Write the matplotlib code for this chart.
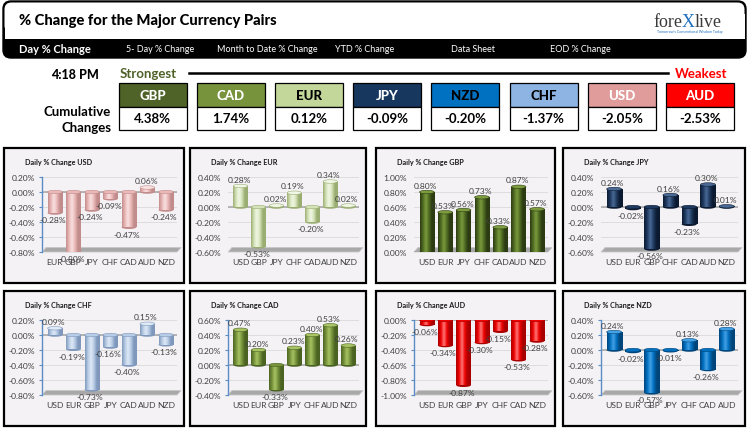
import numpy as np
import matplotlib
matplotlib.use("Agg")
import matplotlib.pyplot as plt
from matplotlib.patches import Rectangle, FancyBboxPatch, Polygon, Ellipse
from matplotlib.colors import LinearSegmentedColormap

W, H = 749, 431

# ---------------- data ----------------
page_title = "% Change for the Major Currency Pairs"
menu_items = ["Day % Change", "5- Day % Change", "Month to Date % Change",
              "YTD % Change", "Data Sheet", "EOD % Change"]
time_label = "4:18 PM"
rank_currencies = ["GBP", "CAD", "EUR", "JPY", "NZD", "CHF", "USD", "AUD"]
rank_values = [4.38, 1.74, 0.12, -0.09, -0.20, -1.37, -2.05, -2.53]

usd_cats = ["EUR", "GBP", "JPY", "CHF", "CAD", "AUD", "NZD"]
usd_vals = [-0.28, -0.80, -0.24, -0.09, -0.47, 0.06, -0.24]
eur_cats = ["USD", "GBP", "JPY", "CHF", "CAD", "AUD", "NZD"]
eur_vals = [0.28, -0.53, 0.02, 0.19, -0.20, 0.34, 0.02]
gbp_cats = ["USD", "EUR", "JPY", "CHF", "CAD", "AUD", "NZD"]
gbp_vals = [0.80, 0.53, 0.56, 0.73, 0.33, 0.87, 0.57]
jpy_cats = ["USD", "EUR", "GBP", "CHF", "CAD", "AUD", "NZD"]
jpy_vals = [0.24, -0.02, -0.56, 0.16, -0.23, 0.30, 0.01]
chf_cats = ["USD", "EUR", "GBP", "JPY", "CAD", "AUD", "NZD"]
chf_vals = [0.09, -0.19, -0.73, -0.16, -0.40, 0.15, -0.13]
cad_cats = ["USD", "EUR", "GBP", "JPY", "CHF", "AUD", "NZD"]
cad_vals = [0.47, 0.20, -0.33, 0.23, 0.40, 0.53, 0.26]
aud_cats = ["USD", "EUR", "GBP", "JPY", "CHF", "CAD", "NZD"]
aud_vals = [-0.06, -0.34, -0.87, -0.30, -0.15, -0.53, -0.28]
nzd_cats = ["USD", "EUR", "GBP", "JPY", "CHF", "CAD", "AUD"]
nzd_vals = [0.24, -0.02, -0.57, -0.01, 0.13, -0.26, 0.28]

y_ranges = {"USD": (-0.8, 0.2), "EUR": (-0.6, 0.4), "GBP": (0.0, 1.0), "JPY": (-0.6, 0.4),
            "CHF": (-0.8, 0.2), "CAD": (-0.4, 0.6), "AUD": (-1.0, 0.0), "NZD": (-0.6, 0.4)}

# ---------------- styles ----------------
plt.rcParams["font.family"] = ["Lato", "DejaVu Sans"]
FAM = ["Lato", "DejaVu Sans"]
box_colors = {"GBP": "#4f6228", "CAD": "#77933c", "EUR": "#c4d79b", "JPY": "#17375e",
              "NZD": "#0070c0", "CHF": "#8db4e2", "USD": "#df9c9b", "AUD": "#ff0000"}
box_text = {"GBP": "white", "CAD": "white", "EUR": "black", "JPY": "white",
            "NZD": "black", "CHF": "black", "USD": "white", "AUD": "white"}
# (dark, mid, light)
bar_colors = {"USD": ("#c28c8c", "#ebb8b8", "#f8e2e2"),
              "EUR": ("#9aad72", "#d5e3b8", "#f1f7e6"),
              "GBP": ("#2c3b12", "#4f6b22", "#7c9c3e"),
              "JPY": ("#0b1a30", "#1f3a60", "#4a6a95"),
              "CHF": ("#7f98bb", "#b7cce6", "#e0eaf6"),
              "CAD": ("#4b6322", "#77933c", "#a8c464"),
              "AUD": ("#a80000", "#f00000", "#ff7a7a"),
              "NZD": ("#00457a", "#0070c0", "#45a2e6")}
show_axis = {"USD": True, "EUR": False, "GBP": False, "JPY": False,
             "CHF": True, "CAD": True, "AUD": True, "NZD": True}

panels = [("USD", usd_cats, usd_vals), ("EUR", eur_cats, eur_vals),
          ("GBP", gbp_cats, gbp_vals), ("JPY", jpy_cats, jpy_vals),
          ("CHF", chf_cats, chf_vals), ("CAD", cad_cats, cad_vals),
          ("AUD", aud_cats, aud_vals), ("NZD", nzd_cats, nzd_vals)]
cols = [(4, 184), (190, 366), (376, 555), (563, 745)]
rows = [(149, 284), (292, 427)]

fig = plt.figure(figsize=(W / 100, H / 100), dpi=100)
fig.patch.set_facecolor("white")
bg = fig.add_axes([0, 0, 1, 1], zorder=0)
bg.set_xlim(0, W)
bg.set_ylim(H, 0)
bg.axis("off")

# ---------------- header ----------------
bg.add_patch(FancyBboxPatch((3, 2), 743, 57, boxstyle="round,pad=0,rounding_size=8",
                            fc="black", ec="black", lw=1))
bg.add_patch(FancyBboxPatch((4.5, 3.5), 740, 30, boxstyle="round,pad=0,rounding_size=7",
                            fc="white", ec="none"))
bg.add_patch(Rectangle((4.5, 15), 740, 25, fc="white", ec="none"))
bg.text(19, 21, page_title, family=FAM, fontweight="black", fontsize=10.6, va="center", ha="left")
menu_x = [19, 126, 217, 335, 451, 550]
for i, (mx, item) in enumerate(zip(menu_x, menu_items)):
    bg.text(mx, 49.5, item, color="white", family=FAM,
            fontweight="bold" if i == 0 else "normal",
            fontsize=8 if i == 0 else 6.5, va="center", ha="left")
t1 = bg.text(653, 27, "fore", family=["Liberation Serif"], fontsize=13, color="#3a3a3a",
             va="baseline", ha="left")
t2 = bg.annotate("X", xy=(1, 0), xycoords=t1, family=["Liberation Serif"], fontsize=13,
                 color="#1f6fc0", va="bottom", ha="left")
t3 = bg.annotate("live", xy=(1, 0), xycoords=t2, family=["Liberation Serif"], fontsize=13,
                 color="#3a3a3a", va="bottom", ha="left")
bg.text(690, 32, "Tomorrow's Conventional Wisdom Today", fontsize=2.6, color="#1f6fc0",
        ha="center", va="center")

# ---------------- strongest / weakest ----------------
bg.text(75, 75, time_label, family=FAM, fontweight="black", fontsize=9, ha="center", va="center")
bg.text(120, 74, "Strongest", family=FAM, fontweight="bold", fontsize=9.5,
        color="#4f6228", ha="left", va="center")
bg.text(727, 74, "Weakest", family=FAM, fontweight="bold", fontsize=9.5,
        color="#ff0000", ha="right", va="center")
bg.plot([189, 668], [74, 74], color="black", lw=1.8)
bg.text(111, 112, "Cumulative", family=FAM, fontweight="bold", fontsize=9.5, ha="right", va="center")
bg.text(111, 128, "Changes", family=FAM, fontweight="bold", fontsize=9.5, ha="right", va="center")
for i, (cur, val) in enumerate(zip(rank_currencies, rank_values)):
    x0 = 118.6 + i * 78.2
    bg.add_patch(Rectangle((x0, 84), 68, 24, fc=box_colors[cur], ec="black", lw=0.9))
    bg.add_patch(Rectangle((x0, 108), 68, 23, fc="white", ec="black", lw=0.9))
    bg.text(x0 + 34, 96, cur, family=FAM, fontweight="black", fontsize=9.5,
            color=box_text[cur], ha="center", va="center")
    bg.text(x0 + 34, 119.5, f"{val:.2f}%", family=FAM, fontweight="bold", fontsize=9.5,
            color="black", ha="center", va="center")


# ---------------- charts ----------------
def pct(v, _=None):
    return f"{v:.2f}%"


FS = 6.1
for k, (cur, cats, vals) in enumerate(panels):
    L, R = cols[k % 4]
    T, B = rows[k // 4]
    bg.add_patch(Rectangle((L, T), R - L, B - T, fc="#f4f2f5", ec="black", lw=1.6))
    bg.text(L + 21, T + 14, f"Daily % Change {cur}", family=FAM, fontweight="bold",
            fontsize=5.2, ha="left", va="center", color="#1a1a1a")

    left, right, top, bottom = L + 38, R - 7, T + 29, B - 31
    ax = fig.add_axes([left / W, 1 - bottom / H, (right - left) / W, (bottom - top) / H], zorder=2)
    ax.patch.set_alpha(0)
    lo, hi = y_ranges[cur]
    ypx = bottom - top
    dark, mid, light = bar_colors[cur]
    cmap = LinearSegmentedColormap.from_list(cur, [dark, mid, light, mid, dark, dark])
    grad = np.linspace(0, 1, 64).reshape(1, -1)

    # floor
    ax.add_patch(Polygon([(0.0, 0.0), (1.0, 0.0), (1.03, 0.06), (0.03, 0.06)],
                         closed=True, transform=ax.transAxes, fc="#a8a8a8", ec="#c8c8c8",
                         lw=0.6, zorder=1, clip_on=False))
    ax.axhline(0, color="#a6a6a6", lw=1.1, zorder=2)

    x = np.arange(len(vals))
    width = 0.8
    bars = ax.bar(x, vals, width=width, color="none", edgecolor="none", zorder=3)
    cap_h = 3.5 / ypx * (hi - lo)
    for b, v in zip(bars, vals):
        x0 = b.get_x()
        y0, y1 = sorted([0, v])
        ax.add_patch(Ellipse((x0 + width / 2, y0), width, cap_h, fc=dark, ec="none", zorder=2.9))
        im = ax.imshow(grad, extent=[x0, x0 + width, y0, y1], cmap=cmap, aspect="auto",
                       interpolation="bicubic", zorder=3)
        im.set_clip_path(b)
        ax.add_patch(Ellipse((x0 + width / 2, y1), width, cap_h, fc=light if v >= 0 else mid,
                             ec=dark, lw=0.4, zorder=3.5))
        if v >= 0:
            ax.annotate(pct(v), (x0 + width / 2, v), xytext=(-1, 2.5), textcoords="offset points",
                        ha="center", va="bottom", fontsize=FS, color="#404040", zorder=6)
        else:
            ax.annotate(pct(v), (x0 + width / 2, v), xytext=(-1.5, -2.5), textcoords="offset points",
                        ha="center", va="top", fontsize=FS, color="#404040", zorder=6)

    ax.set_xlim(-0.7, len(vals) - 0.4)
    ax.set_ylim(lo, hi)
    ax.set_yticks(np.linspace(lo, hi, 6))
    ax.yaxis.set_major_formatter(plt.FuncFormatter(pct))
    ax.set_xticks(x)
    ax.set_xticklabels(cats)
    ax.yaxis.grid(True, color="#d9d9d9", lw=0.6)
    ax.set_axisbelow(True)
    for s in ["top", "right", "bottom"]:
        ax.spines[s].set_visible(False)
    axis_col = "#5b8cc6"
    if show_axis[cur]:
        ax.spines["left"].set_color(axis_col)
        ax.spines["left"].set_linewidth(1.0)
        ax.tick_params(axis="y", length=2.5, color=axis_col, width=0.8, pad=2.5)
    else:
        ax.spines["left"].set_visible(False)
        ax.tick_params(axis="y", length=0, pad=5)
    ax.tick_params(axis="x", length=0, pad=4)
    ax.tick_params(labelsize=FS, labelcolor="#404040")

fig.savefig("out.png", dpi=100, facecolor="white")
